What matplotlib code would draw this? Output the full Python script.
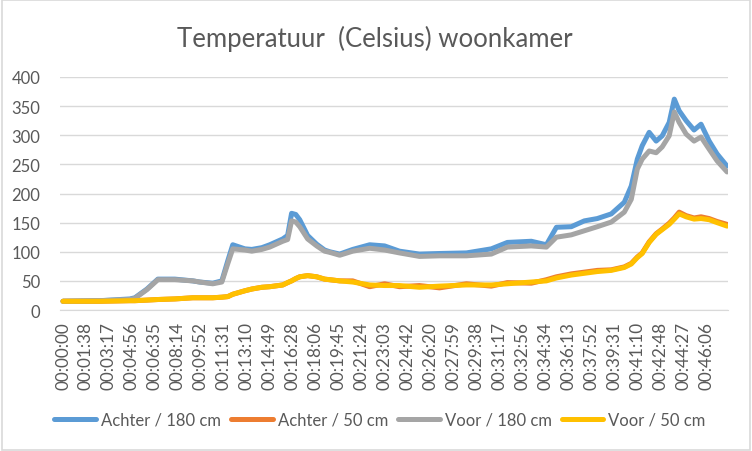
import matplotlib
matplotlib.use("Agg")
import matplotlib.pyplot as plt

# ---- data ----
tick_labels = ["00:00:00","00:01:38","00:03:17","00:04:56","00:06:35","00:08:14","00:09:52",
               "00:11:31","00:13:10","00:14:49","00:16:28","00:18:06","00:19:45","00:21:24",
               "00:23:03","00:24:42","00:26:20","00:27:59","00:29:38","00:31:17","00:32:56",
               "00:34:34","00:36:13","00:37:52","00:39:31","00:41:10","00:42:48","00:44:27",
               "00:46:06"]

# time in seconds since start
t_sec = [0, 159, 288, 309, 361, 408, 481, 558, 588, 644, 683, 709, 730, 782, 812, 855, 889,
         945, 966, 983, 1001, 1018, 1052, 1091, 1125, 1147, 1190, 1246, 1319, 1383, 1447, 1533,
         1619, 1735, 1842, 1911, 2014, 2079, 2122, 2186, 2242, 2298, 2358, 2414, 2444, 2470,
         2491, 2521, 2551, 2577, 2607, 2629, 2650, 2680, 2714, 2744, 2779, 2813, 2856]

achter_180 = [15, 16, 19, 21, 36, 53, 53, 50, 48, 46, 50, 85, 112, 105, 104, 107, 112,
              122, 128, 166, 164, 155, 128, 113, 103, 100, 96, 104, 112, 110, 101, 96,
              97, 98, 105, 116, 118, 112, 142, 143, 153, 157, 165, 185, 213, 259,
              282, 305, 290, 299, 322, 362, 342, 325, 309, 319, 290, 268, 247]

achter_50 = [15, 15, 16, 16, 17, 18, 19, 21, 21, 21, 22, 23, 27, 33, 36, 39, 40,
             43, 47, 50, 54, 57, 59, 57, 53, 52, 50, 50, 40, 45, 40, 42,
             38, 45, 41, 47, 46, 52, 57, 62, 65, 68, 69, 74, 80, 91,
             98, 117, 131, 139, 149, 158, 168, 162, 158, 160, 157, 152, 147]

voor_180 = [15, 16, 18, 20, 35, 52, 52, 50, 48, 45, 48, 80, 105, 103, 101, 104, 108,
            118, 121, 153, 151, 143, 122, 110, 101, 99, 94, 101, 106, 103, 98, 92,
            93, 93, 96, 108, 110, 108, 125, 129, 136, 143, 151, 168, 190, 242,
            259, 273, 270, 280, 299, 340, 322, 302, 290, 297, 276, 256, 237]

voor_50 = [15, 15, 16, 16, 17, 18, 19, 21, 21, 21, 22, 23, 27, 33, 36, 39, 40,
           43, 47, 50, 54, 57, 59, 57, 53, 52, 50, 48, 43, 42, 42, 39,
           41, 43, 43, 45, 48, 50, 55, 60, 63, 66, 68, 73, 79, 90,
           97, 116, 130, 138, 147, 156, 165, 160, 156, 157, 155, 150, 144]

series_names = ["Achter / 180 cm", "Achter / 50 cm", "Voor / 180 cm", "Voor / 50 cm"]
series_values = [achter_180, achter_50, voor_180, voor_50]
series_colors = ["#5B9BD5", "#ED7D31", "#A5A5A5", "#FFC000"]

y_ticks = [0, 50, 100, 150, 200, 250, 300, 350, 400]

def to_sec(s):
    h, m, ss = s.split(":")
    return int(h) * 3600 + int(m) * 60 + int(ss)

tick_pos = [to_sec(s) for s in tick_labels]

# ---- figure ----
plt.rcParams['font.family'] = ['Lato', 'DejaVu Sans']
txt = "#595959"

fig = plt.figure(figsize=(7.52, 4.52), dpi=100)
fig.patch.set_facecolor("white")
# outer border
fig.add_artist(plt.Rectangle((0.002, 0.003), 0.995, 0.994, transform=fig.transFigure,
                             fill=False, edgecolor="#D9D9D9", linewidth=1.2))

ax = fig.add_axes([60 / 752, 141 / 452, 668 / 752, 233 / 452])
for name, vals, col in zip(series_names, series_values, series_colors):
    ax.plot(t_sec, vals, color=col, linewidth=3.6, label=name, solid_capstyle="round",
            solid_joinstyle="round")

ax.set_xlim(-13, 2860)
ax.set_ylim(0, 400)
ax.set_yticks(y_ticks)
ax.set_yticklabels([str(v) for v in y_ticks], color=txt, fontsize=12)
ax.set_xticks(tick_pos)
ax.set_xticklabels(tick_labels, rotation=90, color=txt, fontsize=12.3)
ax.tick_params(axis="both", length=0)
ax.tick_params(axis="y", pad=14)
ax.tick_params(axis="x", pad=8)
ax.grid(axis="y", color="#D9D9D9", linewidth=1)
ax.set_axisbelow(True)
for sp in ["top", "right", "left"]:
    ax.spines[sp].set_visible(False)
ax.spines["bottom"].set_color("#D9D9D9")

fig.text(375 / 752, 1 - 39 / 452, "Temperatuur  (Celsius) woonkamer", ha="center",
         va="center", fontsize=18.5, color=txt)

leg = fig.legend(loc="center", bbox_to_anchor=(380 / 752, 31 / 452), ncol=4, frameon=False,
                 fontsize=12, handlelength=2.5, handletextpad=0.3, columnspacing=0.6)
for t in leg.get_texts():
    t.set_color(txt)
for h in leg.get_lines():
    h.set_linewidth(3.6)

fig.savefig("out.png", dpi=100, facecolor="white")
